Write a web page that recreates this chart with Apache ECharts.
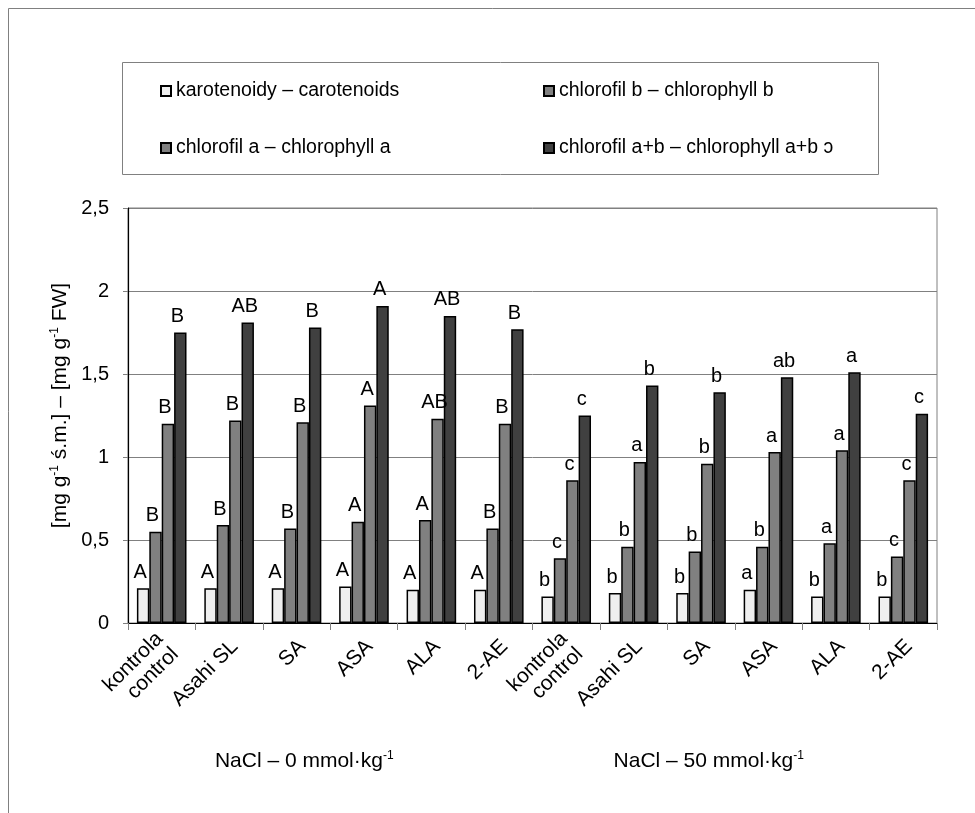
<!DOCTYPE html>
<html>
<head>
<meta charset="utf-8">
<script src="https://cdn.jsdelivr.net/npm/echarts@6/dist/echarts.min.js"></script>
<style>html,body{margin:0;padding:0;background:#fff;}#c{width:975px;height:813px;}</style>
</head>
<body>
<div id="c"></div>
<script>
const categories = ['kontrola\ncontrol','Asahi SL','SA','ASA','ALA','2-AE','kontrola\ncontrol','Asahi SL','SA','ASA','ALA','2-AE'];
const groupLabels = ['NaCl – 0 mmol·kg{sup|-1}', 'NaCl – 50 mmol·kg{sup|-1}'];
const seriesNames = ['karotenoidy – carotenoids','chlorofil b – chlorophyll b','chlorofil a – chlorophyll a','chlorofil a+b – chlorophyll a+b ɔ'];
const carotenoids = [0.21,0.21,0.21,0.22,0.20,0.20,0.16,0.18,0.18,0.20,0.16,0.16];
const chlB        = [0.55,0.59,0.57,0.61,0.62,0.57,0.39,0.46,0.43,0.46,0.48,0.40];
const chlA        = [1.20,1.22,1.21,1.31,1.23,1.20,0.86,0.97,0.96,1.03,1.04,0.86];
const chlAB       = [1.75,1.81,1.78,1.91,1.85,1.77,1.25,1.43,1.39,1.48,1.51,1.26];
const lettersCar  = ['A','A','A','A','A','A','b','b','b','a','b','b'];
const lettersB    = ['B','B','B','A','A','B','c','b','b','b','a','c'];
const lettersA    = ['B','B','B','A','AB','B','c','a','b','a','a','c'];
const lettersAB   = ['B','AB','B','A','AB','B','c','b','b','ab','a','c'];
const yTicks = {min: 0, max: 2.5, interval: 0.5};

const FONT = 'Liberation Sans, Arial, sans-serif';
const colors = ['#efefef','#808080','#808080','#404040'];
const allValues = [carotenoids, chlB, chlA, chlAB];
const allLetters = [lettersCar, lettersB, lettersA, lettersAB];

const chart = echarts.init(document.getElementById('c'), null, {renderer: 'canvas'});
const series = allValues.map((vals, i) => ({
  name: seriesNames[i],
  type: 'bar',
  xAxisIndex: 0,
  data: vals,
  barWidth: 12.4,
  barGap: '0%',
  itemStyle: {color: colors[i], borderColor: '#000', borderWidth: 1.5},
  label: {
    show: true, position: 'top', distance: 6, offset: [-3, 0],
    color: '#000', fontFamily: FONT, fontSize: 20,
    formatter: p => allLetters[i][p.dataIndex]
  },
  emphasis: {disabled: true},
  animation: false
}));

const supStyle = {fontSize: 12, verticalAlign: 'top', padding: [0, 0, 10, 0], fontFamily: FONT, color: '#000'};
const legendText = {color: '#000', fontFamily: FONT, fontSize: 19.5, lineHeight: 20};
chart.setOption({
  animation: false,
  backgroundColor: '#fff',
  graphic: [
    {type: 'rect', shape: {x: 8.5, y: 8.5, width: 1200, height: 1200}, style: {fill: 'none', stroke: '#808080', lineWidth: 1}, silent: true},
    {type: 'rect', shape: {x: 122.5, y: 62.5, width: 756, height: 112}, style: {fill: '#fff', stroke: '#808080', lineWidth: 1}, silent: true, z: -1}
  ],
  legend: [
    {data: [seriesNames[0], seriesNames[2]], orient: 'vertical', left: 160, top: 81, padding: 0, itemGap: 37,
     itemWidth: 10, itemHeight: 10, icon: 'rect', textStyle: legendText, selectedMode: false},
    {data: [seriesNames[1], seriesNames[3]], orient: 'vertical', left: 543, top: 81, padding: 0, itemGap: 37,
     itemWidth: 10, itemHeight: 10, icon: 'rect', textStyle: legendText, selectedMode: false}
  ],
  grid: {left: 128, right: 38, top: 208, bottom: 190, show: true, borderColor: '#808080', borderWidth: 1, containLabel: false},
  xAxis: [
    {type: 'category', data: categories, position: 'bottom',
     axisLine: {show: true, lineStyle: {color: '#000', width: 1.2}},
     axisTick: {show: true, alignWithLabel: false, interval: 0, length: 7, lineStyle: {color: '#808080'}},
     axisLabel: {interval: 0, rotate: 45, margin: 26, padding: [0, -8, 0, 0], color: '#000', fontFamily: FONT, fontSize: 21, lineHeight: 22},
     splitLine: {show: false}},
    {type: 'category', data: groupLabels, position: 'bottom',
     axisLine: {show: false}, axisTick: {show: false}, splitLine: {show: false},
     axisLabel: {interval: 0, margin: 127, color: '#000', fontFamily: FONT, fontSize: 21, padding: [0, 52, 0, 0],
       formatter: v => v, rich: {sup: supStyle}}}
  ],
  yAxis: {
    type: 'value', min: yTicks.min, max: yTicks.max, interval: yTicks.interval,
    axisLine: {show: true, lineStyle: {color: '#000', width: 1.2}},
    axisTick: {show: true, length: 5, lineStyle: {color: '#808080'}},
    splitLine: {show: true, lineStyle: {color: '#808080', width: 1}},
    axisLabel: {color: '#000', fontFamily: FONT, fontSize: 20, margin: 19,
      formatter: v => String(v).replace('.', ',')},
    name: '[mg g{sup|-1} ś.m.] – [mg g{sup|-1} FW]',
    nameLocation: 'middle', nameRotate: 90, nameGap: 56,
    nameTextStyle: {color: '#000', fontFamily: FONT, fontSize: 21, padding: [0, 0, 0, 20], rich: {sup: supStyle}}
  },
  series: series
});
</script>
</body>
</html>
